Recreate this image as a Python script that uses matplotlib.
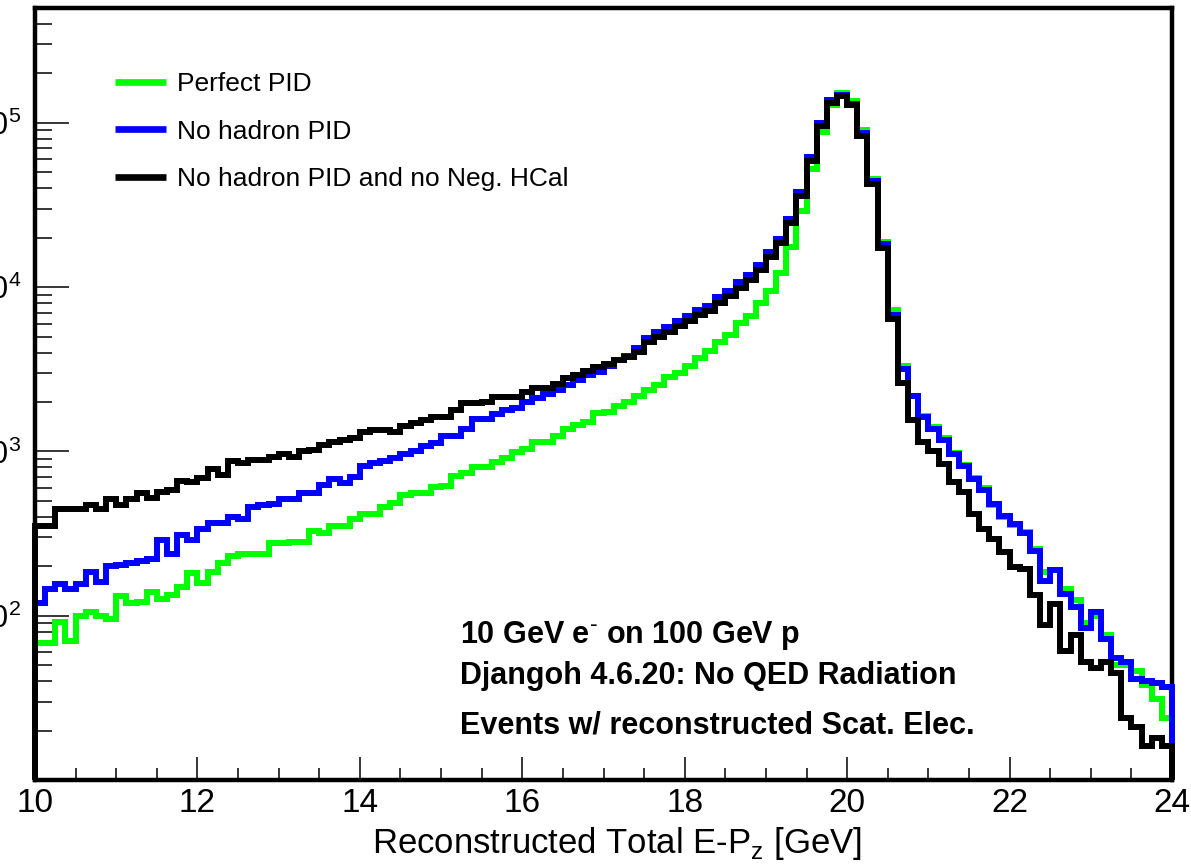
import numpy as np
import matplotlib
matplotlib.use("Agg")
import matplotlib.pyplot as plt
from matplotlib.lines import Line2D
from matplotlib.ticker import LogLocator, MultipleLocator, NullFormatter

# histogram binning: 112 bins of 0.125 GeV between 10 and 24 GeV
x_lo, x_hi, n_bins = 10.0, 24.0, 112
edges = np.linspace(x_lo, x_hi, n_bins + 1)

# bin contents
perfect_pid = [
    68, 68, 92, 70, 99, 105, 100, 96, 132, 119,
    122, 140, 127, 134, 150, 183, 159, 184, 210, 231,
    236, 236, 236, 278, 278, 283, 283, 329, 318, 351,
    351, 389, 419, 419, 460, 487, 540, 555, 555, 610,
    620, 707, 741, 806, 806, 860, 910, 989, 1037, 1138,
    1138, 1238, 1365, 1458, 1506, 1717, 1750, 1885, 2012, 2180,
    2370, 2520, 2820, 3020, 3315, 3705, 4090, 4640, 5140, 6025,
    6675, 8050, 9510, 12130, 17600, 29000, 52500, 87700, 128000, 152700,
    135000, 90200, 45400, 18900, 7260, 3315, 2180, 1650, 1400, 1200,
    980, 830, 690, 600, 470, 400, 355, 325, 255, 184,
    190, 146, 125, 90, 100, 76, 50, 50, 46, 38,
    31, 24,
]
no_hadron_pid = [
    120, 145, 155, 145, 155, 184, 161, 201, 204, 209,
    214, 221, 289, 236, 310, 289, 338, 365, 365, 398,
    387, 456, 470, 482, 510, 510, 560, 560, 621, 675,
    644, 700, 813, 850, 873, 915, 971, 1004, 1076, 1120,
    1244, 1244, 1371, 1578, 1578, 1693, 1782, 1841, 1993, 2128,
    2250, 2357, 2540, 2711, 2909, 3062, 3300, 3589, 3831, 4250,
    4900, 5300, 5700, 6250, 6700, 7250, 7700, 8700, 9500, 10700,
    11900, 13700, 16400, 19700, 26000, 38000, 62000, 100000, 137000, 148500,
    131000, 87000, 44000, 18200, 6800, 3190, 2160, 1620, 1366, 1178,
    960, 815, 676, 585, 477, 406, 361, 320, 249, 162,
    189, 136, 113, 84, 105, 72, 55, 52, 41, 40,
    39, 37,
]
no_hadron_pid_no_neg_hcal = [
    350, 350, 444, 444, 444, 471, 444, 513, 471, 513,
    557, 522, 569, 582, 662, 653, 688, 780, 718, 870,
    850, 893, 893, 927, 971, 922, 1000, 1027, 1092, 1137,
    1170, 1215, 1310, 1358, 1358, 1321, 1438, 1493, 1564, 1630,
    1630, 1790, 1964, 1964, 1993, 2137, 2137, 2137, 2292, 2436,
    2436, 2588, 2800, 2909, 3076, 3267, 3423, 3622, 3757, 4050,
    4617, 4972, 5333, 5831, 6222, 6740, 7160, 8050, 8830, 9930,
    11050, 12700, 15240, 18450, 24530, 35970, 59000, 95800, 132700, 146500,
    129000, 82900, 42200, 17370, 6430, 2600, 1556, 1140, 1010, 838,
    648, 563, 416, 337, 293, 243, 197, 193, 133, 88,
    118, 61, 76, 52, 48, 52, 45, 24, 21, 16,
    18, 16,
]

labels = ["Perfect PID", "No hadron PID", "No hadron PID and no Neg. HCal"]
colors = ["#00ff00", "#0000ff", "#000000"]

x_ticks = [10, 12, 14, 16, 18, 20, 22, 24]
y_ticks = [1e2, 1e3, 1e4, 1e5]
y_tick_labels = [r"$\mathdefault{10^{2}}$", r"$\mathdefault{10^{3}}$",
                 r"$\mathdefault{10^{4}}$", r"$\mathdefault{10^{5}}$"]

info_lines = [r"10 GeV e$^{\text{-}}$ on 100 GeV p",
              "Djangoh 4.6.20: No QED Radiation",
              "Events w/ reconstructed Scat. Elec."]

plt.rcParams['font.family'] = ['Liberation Sans', 'DejaVu Sans']

fig = plt.figure(figsize=(11.91, 8.64), dpi=100)
ax = fig.add_axes([0.0294, 0.0972, 0.9547, 0.8935])

for vals, col in zip([perfect_pid, no_hadron_pid, no_hadron_pid_no_neg_hcal], colors):
    ax.stairs(vals, edges, baseline=10, color=col, lw=4.3, zorder=3, clip_on=False)

ax.set_xlim(x_lo, x_hi)
ax.set_yscale('log')
ax.set_ylim(10, 5e5)

ax.set_xticks(x_ticks, labels=[str(t) for t in x_ticks], fontsize=24)
ax.xaxis.set_minor_locator(MultipleLocator(0.5))
ax.set_yticks(y_ticks, labels=y_tick_labels, fontsize=22)
ax.yaxis.set_minor_locator(LogLocator(base=10, subs=np.arange(2, 10)))
ax.yaxis.set_minor_formatter(NullFormatter())

ax.tick_params(axis='x', which='major', direction='in', length=16.5, width=1.1, pad=6, top=False)
ax.tick_params(axis='x', which='minor', direction='in', length=8.6, width=1.1, top=False)
ax.tick_params(axis='y', which='major', direction='in', length=24.5, width=1.1, pad=10, right=False)
ax.tick_params(axis='y', which='minor', direction='in', length=12, width=1.1, right=False)

for sp in ax.spines.values():
    sp.set_linewidth(3.2)

ax.set_xlabel("Reconstructed Total E-P$_{\\mathdefault{z}}$ [GeV]", fontsize=25)
ax.xaxis.set_label_coords(0.512, -0.058)

handles = [Line2D([], [], color=c, lw=4.8, solid_capstyle='butt') for c in colors]
ax.legend(handles, labels, loc='upper left', bbox_to_anchor=(0.0704, 0.917),
          frameon=False, fontsize=19, handlelength=1.93, handletextpad=0.42,
          labelspacing=0.89, borderpad=0, borderaxespad=0)

for txt, yb in zip(info_lines, [0.1775, 0.1244, 0.0609]):
    ax.text(0.3738, yb, txt, transform=ax.transAxes, fontsize=22,
            fontweight='bold', va='baseline', ha='left')

fig.savefig("out.png", dpi=100)
